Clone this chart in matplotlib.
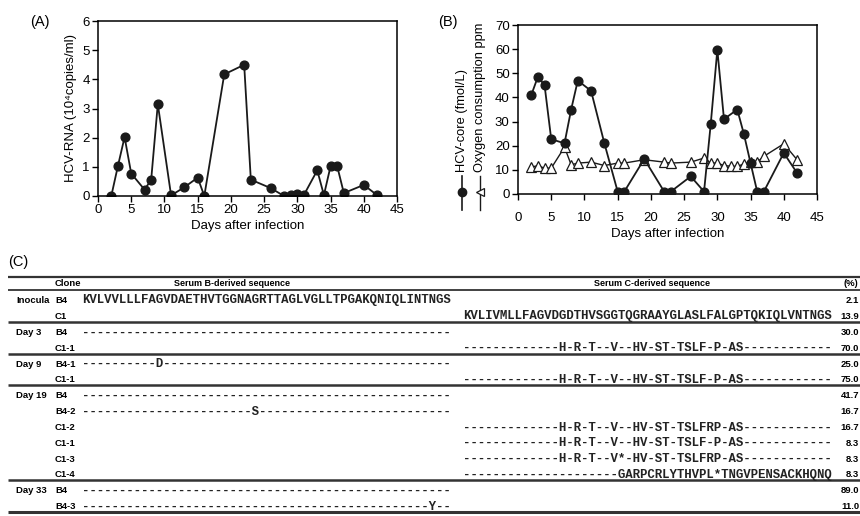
import matplotlib
matplotlib.use("Agg")
import matplotlib.pyplot as plt
from matplotlib.lines import Line2D

plt.rcParams['font.family'] = ['Liberation Sans', 'DejaVu Sans']

# ---------------- data ----------------
days_rna = [2, 3, 4, 5, 7, 8, 9, 11, 13, 15, 16, 19, 22, 23, 26, 28, 29, 30, 31, 33, 34, 35, 36, 37, 40, 42]
hcv_rna = [0.0, 1.03, 2.02, 0.77, 0.22, 0.55, 3.15, 0.02, 0.30, 0.63, 0.0, 4.17, 4.50, 0.56, 0.27,
           0.0, 0.03, 0.07, 0.04, 0.88, 0.03, 1.02, 1.02, 0.10, 0.38, 0.03]

days_core = [2, 3, 4, 5, 7, 8, 9, 11, 13, 15, 16, 19, 22, 23, 26, 28, 29, 30, 31, 33, 34, 35, 36, 37, 40, 42]
hcv_core = [41.0, 48.6, 45.0, 22.7, 21.0, 35.0, 47.0, 42.7, 21.0, 1.0, 1.0, 14.5, 1.0, 1.0, 7.3,
            1.0, 28.8, 59.7, 31.0, 35.0, 24.8, 12.8, 1.0, 1.0, 17.0, 8.7]

days_oxy = [2, 3, 4, 5, 7, 8, 9, 11, 13, 15, 16, 19, 22, 23, 26, 28, 29, 30, 31, 32, 33, 34, 35, 36, 37, 40, 42]
oxygen = [11.2, 11.7, 10.7, 10.7, 19.4, 12.1, 12.8, 13.2, 11.8, 12.8, 12.8, 14.2, 13.2, 12.8, 13.2,
          14.9, 12.8, 12.8, 11.8, 11.5, 11.4, 12.5, 13.2, 13.2, 15.6, 20.8, 14.2]

x_ticks = [0, 5, 10, 15, 20, 25, 30, 35, 40, 45]
rna_ticks = [0, 1, 2, 3, 4, 5, 6]
core_ticks = [0, 10, 20, 30, 40, 50, 60, 70]

groups = ["Inocula", "Day 3", "Day 9", "Day 19", "Day 33"]
group_sizes = [2, 2, 2, 6, 2]
clones = ["B4", "C1", "B4", "C1-1", "B4-1", "C1-1", "B4", "B4-2", "C1-2", "C1-1", "C1-3", "C1-4", "B4", "B4-3"]
b_seqs = [
    "KVLVVLLLFAGVDAETHVTGGNAGRTTAGLVGLLTPGAKQNIQLINTNGS",
    "",
    "-" * 50,
    "",
    "-" * 10 + "D" + "-" * 39,
    "",
    "-" * 50,
    "-" * 23 + "S" + "-" * 26,
    "", "", "", "",
    "-" * 50,
    "-" * 47 + "Y" + "-" * 2,
]
c_seqs = [
    "",
    "KVLIVMLLFAGVDGDTHVSGGTQGRAAYGLASLFALGPTQKIQLVNTNGS",
    "",
    "-" * 13 + "H-R-T--V--HV-ST-TSLF-P-AS" + "-" * 12,
    "",
    "-" * 13 + "H-R-T--V--HV-ST-TSLF-P-AS" + "-" * 12,
    "", "",
    "-" * 13 + "H-R-T--V--HV-ST-TSLFRP-AS" + "-" * 12,
    "-" * 13 + "H-R-T--V--HV-ST-TSLF-P-AS" + "-" * 12,
    "-" * 13 + "H-R-T--V*-HV-ST-TSLFRP-AS" + "-" * 12,
    "-" * 21 + "GARPCRLYTHVPL*TNGVPENSACKHQNQ",
    "", "",
]
percents = ["2.1", "13.9", "30.0", "70.0", "25.0", "75.0", "41.7", "16.7", "16.7", "8.3", "8.3", "8.3", "89.0", "11.0"]

# ---------------- figure ----------------
W, H = 860, 516
fig = plt.figure(figsize=(W / 100, H / 100), dpi=100)

def fx(px):
    return px / W

def fy(py):
    return 1 - py / H

# ---- table panel (pixel coordinate axes) ----
tax = fig.add_axes([0, 0, 1, 1])
tax.set_xlim(0, W)
tax.set_ylim(H, 0)
tax.axis('off')

lab_fs = 6.8
tax.text(8, 262, "(C)", fontsize=10.5, va='center', ha='left')
tax.hlines(277, 8, W, color='#333333', lw=1.6)
tax.text(55, 283.5, "Clone", fontsize=lab_fs, fontweight='bold', va='center', ha='left')
tax.text(232, 283.5, "Serum B-derived sequence", fontsize=6.5, fontweight='bold', va='center', ha='center')
tax.text(652, 283.5, "Serum C-derived sequence", fontsize=6.5, fontweight='bold', va='center', ha='center')
tax.text(858, 283.5, "(%)", fontsize=lab_fs, fontweight='bold', va='center', ha='right')
tax.hlines(290, 8, W, color='#333333', lw=1.3)

step = 15.8
y = 290
row = 0
for g, n in zip(groups, group_sizes):
    y0 = y + 10.5
    for k in range(n):
        yr = y0 + k * step
        if k == 0:
            tax.text(16, yr, g, fontsize=lab_fs, fontweight='bold', va='center', ha='left')
        tax.text(55, yr, clones[row], fontsize=lab_fs, fontweight='bold', va='center', ha='left')
        if b_seqs[row]:
            tax.text(82, yr, b_seqs[row], fontsize=8.9, family='Liberation Mono',
                     fontweight='bold', va='center', ha='left', color='#222222')
        if c_seqs[row]:
            tax.text(463, yr, c_seqs[row], fontsize=8.9, family='Liberation Mono',
                     fontweight='bold', va='center', ha='left', color='#222222')
        tax.text(859, yr, percents[row], fontsize=lab_fs, fontweight='bold', va='center', ha='right')
        row += 1
    y = y0 + (n - 1) * step + 5.5
    tax.hlines(y, 8, W, color='#333333', lw=1.8 if g != groups[-1] else 2.2)

# ---- panel A ----
axA = fig.add_axes([fx(98), fy(196), fx(397) - fx(98), fy(21) - fy(196)])
axA.plot(days_rna, hcv_rna, '-o', color='#1a1a1a', ms=6.3, lw=1.3, mec='#1a1a1a')
axA.set_xlim(0, 45)
axA.set_ylim(0, 6)
axA.set_xticks(x_ticks)
axA.set_yticks(rna_ticks)
axA.tick_params(direction='out', length=4, width=1, labelsize=9.5, pad=2)
axA.set_xlabel("Days after infection", fontsize=9.5, labelpad=3)
axA.set_ylabel("HCV-RNA (10\u2074copies/ml)", fontsize=9.5, labelpad=4)
for s in axA.spines.values():
    s.set_linewidth(1.1)
fig.text(fx(30), fy(22), "(A)", fontsize=10.5, va='center', ha='left')

# ---- panel B ----
axB = fig.add_axes([fx(518), fy(194), fx(817) - fx(518), fy(25) - fy(194)])
axB.plot(days_core, hcv_core, '-o', color='#1a1a1a', ms=6.3, lw=1.3, mec='#1a1a1a', zorder=3)
axB.plot(days_oxy, oxygen, '-^', color='#1a1a1a', ms=6.5, lw=1.0, mfc='white', mec='#1a1a1a',
         mew=0.9, zorder=2)
axB.set_xlim(0, 45)
axB.set_ylim(0, 70)
axB.set_xticks(x_ticks)
axB.set_yticks(core_ticks)
axB.tick_params(direction='out', length=4, width=1, labelsize=9.5, pad=2)
axB.tick_params(axis='x', pad=9)
axB.set_xlabel("Days after infection", fontsize=9.5, labelpad=3)
for s in axB.spines.values():
    s.set_linewidth(1.1)
fig.text(fx(438), fy(22), "(B)", fontsize=10.5, va='center', ha='left')

# rotated y labels with symbol keys
fig.text(fx(462), fy(121), "HCV-core (fmol/L)", rotation=90, fontsize=9.3, ha='center', va='center')
fig.text(fx(480), fy(97), "Oxygen consumption ppm", rotation=90, fontsize=9.3, ha='center', va='center')
fig.add_artist(Line2D([fx(462), fx(462)], [fy(176), fy(210)], color='#1a1a1a', lw=1.2))
fig.add_artist(Line2D([fx(462)], [fy(192)], marker='o', color='#1a1a1a', ms=6))
fig.add_artist(Line2D([fx(480), fx(480)], [fy(176), fy(210)], color='#1a1a1a', lw=1.0))
fig.add_artist(Line2D([fx(480)], [fy(192)], marker='<', color='#1a1a1a', ms=6, mfc='white', mew=0.9))

fig.savefig("out.png", dpi=100)
